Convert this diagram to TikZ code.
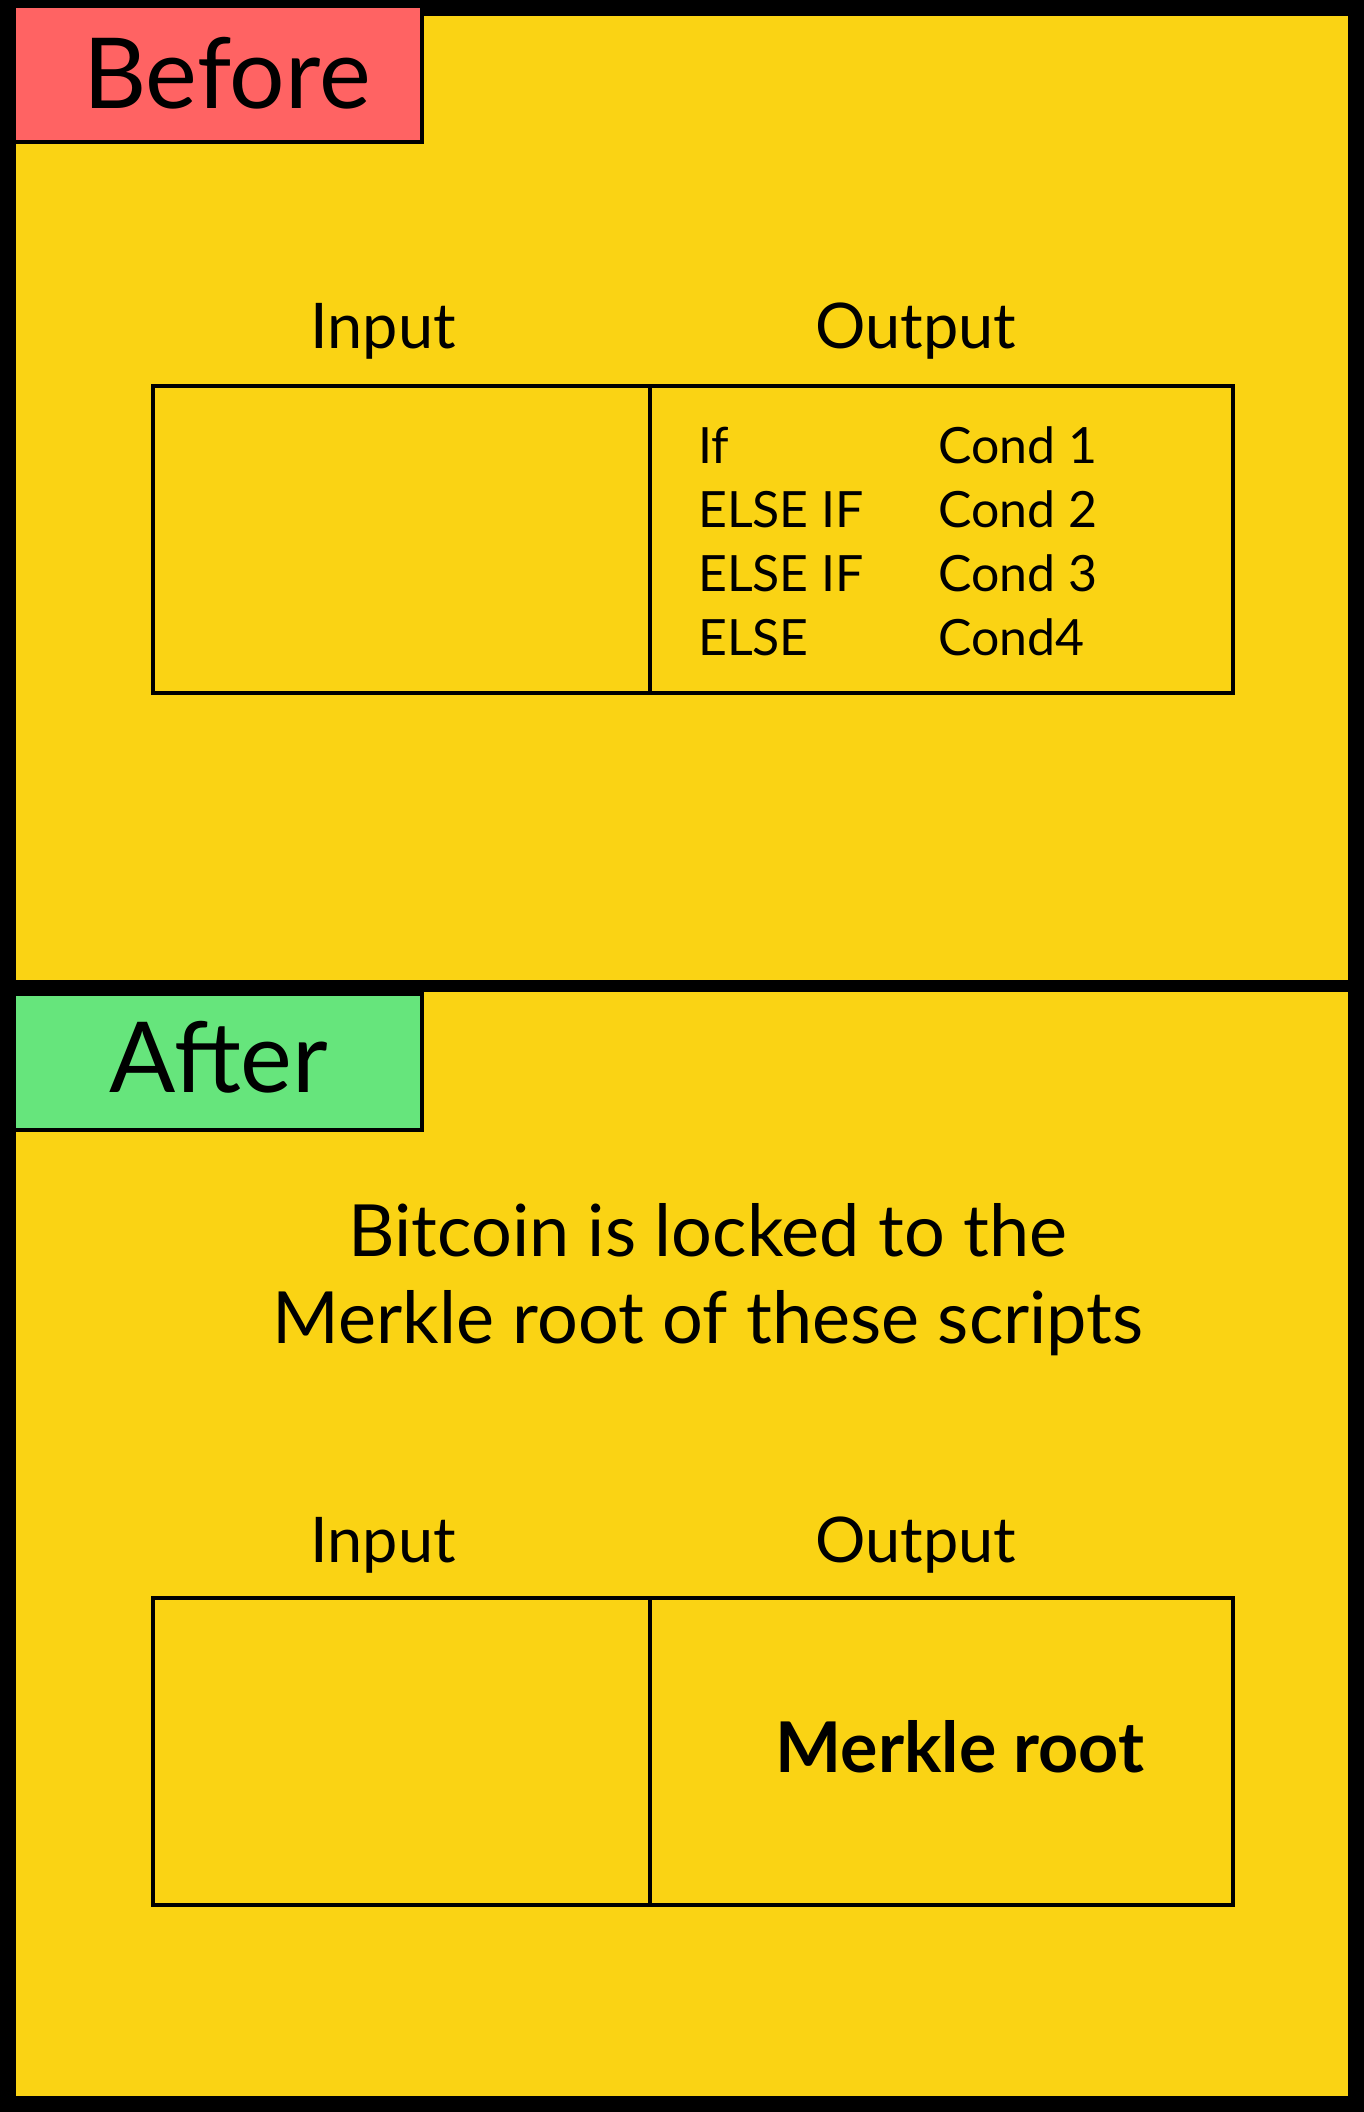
\documentclass[tikz,border=0pt]{standalone}
\usepackage{fontspec}
\setmainfont{Lato}
\usepackage{tikz}
\usetikzlibrary{positioning}
\usepackage{xcolor}
\definecolor{panelyellow}{HTML}{FAD314}
\definecolor{beforered}{HTML}{FF6363}
\definecolor{aftergreen}{HTML}{66E57C}

\tikzset{
  tagbox/.style={draw=black, line width=4pt},
  cellline/.style={draw=black, line width=3.5pt},
  headlabel/.style={font=\fontsize{63}{70}\selectfont, anchor=base, inner sep=0pt},
  codetext/.style={font=\fontsize{50}{56}\selectfont, anchor=base west, inner sep=0pt}
}

\begin{document}
\begin{tikzpicture}[x=1pt, y=-1pt]
  \useasboundingbox (0,0) rectangle (1364,2112);
  \fill[black] (0,0) rectangle (1364,2112);
  \fill[panelyellow] (16,16) rectangle (1348,980);
  \fill[panelyellow] (16,992) rectangle (1348,2096);

  % before panel
  \draw[tagbox, fill=beforered] (14,6) rectangle (422,142);
  \node[font=\fontsize{98}{110}\selectfont, anchor=base, inner sep=0pt] (before) at (227,108) {Before};
  \node[headlabel] (in1) at (383,348) {Input};
  \node[headlabel] (out1) at (916,348) {Output};
  \draw[cellline] (153,386) rectangle (1233,693);
  \draw[cellline] (650,386) -- (650,693);
  \foreach \kw/\cond [count=\i] in {If/Cond 1, ELSE IF/Cond 2, ELSE IF/Cond 3, ELSE/Cond4} {
    \node[codetext] (kw\i) at (698, 399+64*\i) {\kw};
    \node[codetext] (cond\i) at (938, 399+64*\i) {\cond};
  }

  % after panel
  \draw[tagbox, fill=aftergreen] (14,994) rectangle (422,1130);
  \node[font=\fontsize{98}{110}\selectfont, anchor=base, inner sep=0pt] (after) at (219,1092) {After};
  \node[font=\fontsize{72}{87}\selectfont, align=center, anchor=base, inner sep=0pt] (lock) at (708,1343)
    {Bitcoin is locked to the\\Merkle root of these scripts};
  \node[headlabel] (in2) at (383,1562) {Input};
  \node[headlabel] (out2) at (916,1562) {Output};
  \draw[cellline] (153,1598) rectangle (1233,1905);
  \draw[cellline] (650,1598) -- (650,1905);
  \node[font=\bfseries\fontsize{70}{80}\selectfont, inner sep=0pt] (root) at (960,1747) {Merkle root};
\end{tikzpicture}
\end{document}
